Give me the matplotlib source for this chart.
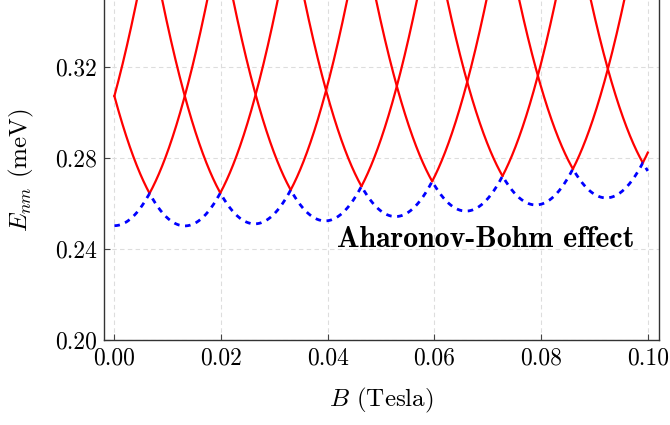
import numpy as np
import matplotlib
matplotlib.use('agg')
import matplotlib.pyplot as plt

# vertices of the parabolas E_m(B)
B_vertex = [-0.0132, 0.0, 0.0132, 0.0263, 0.0395, 0.0527, 0.0659, 0.0790, 0.0922, 0.1054]
E_vertex = [0.2502, 0.2502, 0.2501, 0.2510, 0.2523, 0.2542, 0.2566, 0.2593, 0.2624, 0.2647]
curv = 327.0  # meV/T^2

x_ticks = [0.00, 0.02, 0.04, 0.06, 0.08, 0.10]
y_ticks = [0.20, 0.24, 0.28, 0.32]

plt.rcParams['font.family'] = 'serif'
plt.rcParams['font.serif'] = ['cmr10']
plt.rcParams['mathtext.fontset'] = 'cm'
plt.rcParams['axes.formatter.use_mathtext'] = True

B = np.linspace(0, 0.1, 2001)
levels = np.array([e + curv * (B - b) ** 2 for b, e in zip(B_vertex, E_vertex)])
ground = levels.min(axis=0)

fig = plt.figure(figsize=(6.7, 4.25), dpi=100)
ax = fig.add_axes([104 / 670, 85 / 425, (659 - 104) / 670, 340 / 425])

for lev in levels:
    red = np.ma.masked_where(lev <= ground + 1e-9, lev)
    ax.plot(B, red, color='red', lw=1.6, zorder=3)
ax.plot(B, ground, color='blue', lw=2.0, dashes=(2, 2), zorder=4)

ax.text(0.0418, 0.241, 'Aharonov-Bohm effect', fontname='cmb10', fontsize=21.5,
        ha='left', va='baseline', zorder=5)

ax.set_xlim(-0.00195, 0.1021)
ax.set_ylim(0.20, 0.3493)
ax.set_xticks(x_ticks)
ax.set_yticks(y_ticks)
ax.set_xticklabels([f'{t:.2f}' for t in x_ticks])
ax.set_yticklabels([f'{t:.2f}' for t in y_ticks])
ax.tick_params(direction='in', length=4, width=0.8, color='#444444', labelsize=17, pad=5)
ax.grid(True, color='#dddddd', ls='--', lw=0.8, dashes=(4, 3))
ax.set_axisbelow(True)
for s in ['left', 'bottom', 'right']:
    ax.spines[s].set_color('#333333')
    ax.spines[s].set_linewidth(1.0)
ax.spines['top'].set_visible(False)

ax.set_xlabel(r'$B$ (Tesla)', fontsize=18, labelpad=12)
ax.set_ylabel(r'$E_{nm}$ (meV)', fontsize=18, labelpad=14)

fig.savefig('out.png', dpi=100)
